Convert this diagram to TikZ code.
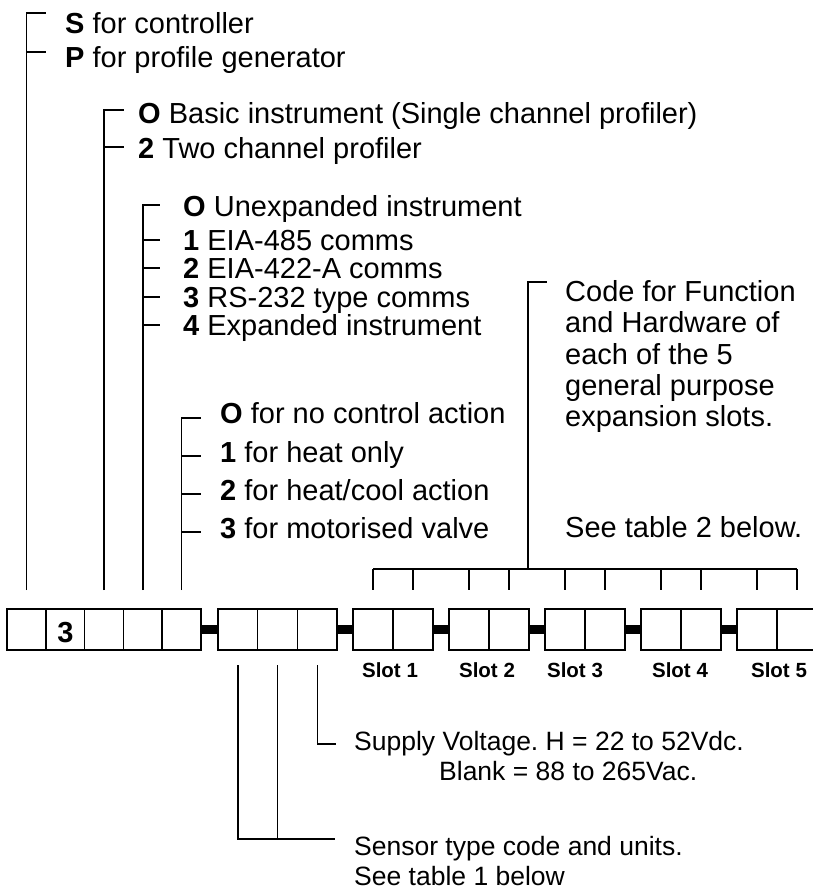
\documentclass[tikz,border=0pt]{standalone}
\usepackage{fontspec}
\setmainfont{Liberation Sans}
\frenchspacing
\begin{document}
\begin{tikzpicture}[x=1pt,y=-1pt,
  cellA/.style={draw, line width=1.5pt, minimum width=38.8pt, minimum height=41pt, inner sep=0pt, outer sep=0pt},
  cellB/.style={cellA, minimum width=39.7pt},
  cellS/.style={cellA, minimum width=40pt},
  ln/.style={line width=1.5pt},
  bar/.style={line width=8.5pt},
  lbl/.style={anchor=base west, inner sep=0pt, font=\fontsize{29}{32}\selectfont\frenchspacing},
  sml/.style={anchor=base west, inner sep=0pt, font=\fontsize{26.5}{30}\selectfont\frenchspacing},
  slotlbl/.style={anchor=base, inner sep=0pt, font=\fontsize{20.5}{24}\selectfont\bfseries}]
\useasboundingbox[fill=white] (0,0) rectangle (812,889);

% ---- boxes ----
\node[cellA] (a1) at (26.4,629.5) {};
\node[cellA] (a2) at (65.2,629.5) {};
\node[cellA] (a3) at (104.0,629.5) {};
\node[cellA] (a4) at (142.8,629.5) {};
\node[cellA] (a5) at (181.6,629.5) {};
\node[anchor=base, inner sep=0pt, font=\fontsize{29}{32}\selectfont\bfseries] (three) at (65.5,642) {3};

\node[cellB] (b1) at (237.85,629.5) {};
\node[cellB] (b2) at (277.55,629.5) {};
\node[cellB] (b3) at (317.25,629.5) {};

\foreach \k/\x in {1/353,2/449,3/545,4/641,5/737}{
  \node[cellS] (s\k a) at (\x+20,629.5) {};
  \node[cellS] (s\k b) at (\x+60,629.5) {};
}

% thick bars
\draw[bar] (a5.east) -- (b1.west);
\draw[bar] (b3.east) -- (s1a.west);
\draw[bar] (s1b.east) -- (s2a.west);
\draw[bar] (s2b.east) -- (s3a.west);
\draw[bar] (s3b.east) -- (s4a.west);
\draw[bar] (s4b.east) -- (s5a.west);

% slot labels
\node[slotlbl] (l1) at (390,677) {Slot 1};
\node[slotlbl] (l2) at (487,677) {Slot 2};
\node[slotlbl] (l3) at (575,677) {Slot 3};
\node[slotlbl] (l4) at (680,677) {Slot 4};
\node[slotlbl] (l5) at (779,677) {Slot 5};

% ---- group 1 ----
\node[lbl] (g1a) at (65,33) {\textbf{S} for controller};
\node[lbl] (g1b) at (65,67) {\textbf{P} for profile generator};
\coordinate (t1a) at (26.4,13);
\coordinate (t1b) at (26.4,52);
\draw[ln] ([yshift=19pt]a1.north) -- (t1a) -- ++(20,0);
\draw[ln] (t1b) -- ++(20,0);

% ---- group 2 ----
\node[lbl] (g2a) at (138,123) {\textbf{O} Basic instrument (Single channel profiler)};
\node[lbl] (g2b) at (138,158) {\textbf{2} Two channel profiler};
\coordinate (t2a) at (104,110);
\coordinate (t2b) at (104,147);
\draw[ln] ([yshift=19pt]a3.north) -- (t2a) -- ++(20,0);
\draw[ln] (t2b) -- ++(20,0);

% ---- group 3 ----
\node[lbl] (g3a) at (183,216) {\textbf{O} Unexpanded instrument};
\node[lbl] (g3b) at (183,250) {\textbf{1} EIA-485 comms};
\node[lbl] (g3c) at (183,278) {\textbf{2} EIA-422-A comms};
\node[lbl] (g3d) at (183,307) {\textbf{3} RS-232 type comms};
\node[lbl] (g3e) at (183,335) {\textbf{4} Expanded instrument};
\coordinate (t3a) at (142.8,205);
\draw[ln] ([yshift=19pt]a4.north) -- (t3a) -- ++(17,0);
\foreach \y in {240,268,297,325}{
  \draw[ln] (142.8,\y) -- ++(17,0);
}

% ---- group 4 ----
\node[lbl] (g4a) at (220,423) {\textbf{O} for no control action};
\node[lbl] (g4b) at (220,462) {\textbf{1} for heat only};
\node[lbl] (g4c) at (220,500) {\textbf{2} for heat/cool action};
\node[lbl] (g4d) at (220,538) {\textbf{3} for motorised valve};
\coordinate (t4a) at (181.6,418);
\draw[ln] ([yshift=19pt]a5.north) -- (t4a) -- ++(19,0);
\foreach \y in {456,494,532}{
  \draw[ln] (181.6,\y) -- ++(19,0);
}

% ---- slots bracket ----
\node[lbl] (c1) at (565,301) {Code for Function};
\node[lbl] (c2) at (565,332) {and Hardware of};
\node[lbl] (c3) at (565,364) {each of the 5};
\node[lbl] (c4) at (565,395) {general purpose};
\node[lbl] (c5) at (565,426) {expansion slots.};
\node[lbl] (c6) at (565,537) {See table 2 below.};
\coordinate (hbar) at (0,569);
\coordinate (ctop) at (528,282);
\draw[ln] (s1a.north |- hbar) -- (s5b.north |- hbar);
\foreach \n in {s1a,s1b,s2a,s2b,s3a,s3b,s4a,s4b,s5a,s5b}{
  \draw[ln] (\n.north |- hbar) -- ([yshift=19pt]\n.north);
}
\draw[ln] (ctop |- hbar) -- (ctop) -- ++(19,0);

% ---- bottom ----
\node[sml] (sv1) at (354,750) {Supply Voltage. H = 22 to 52Vdc.};
\node[sml] (sv2) at (439,780) {Blank = 88 to 265Vac.};
\node[sml] (st1) at (354,855) {Sensor type code and units.};
\node[sml] (st2) at (354,885) {See table 1 below};
\coordinate (svc) at (336,744);
\coordinate (stc) at (335,839);
\draw[ln] ([yshift=-15pt]b3.south) |- (svc);
\draw[ln] ([yshift=-15pt]b1.south) |- (stc);
\draw[ln] ([yshift=-15pt]b2.south) -- (b2.south |- stc);
\end{tikzpicture}
\end{document}
